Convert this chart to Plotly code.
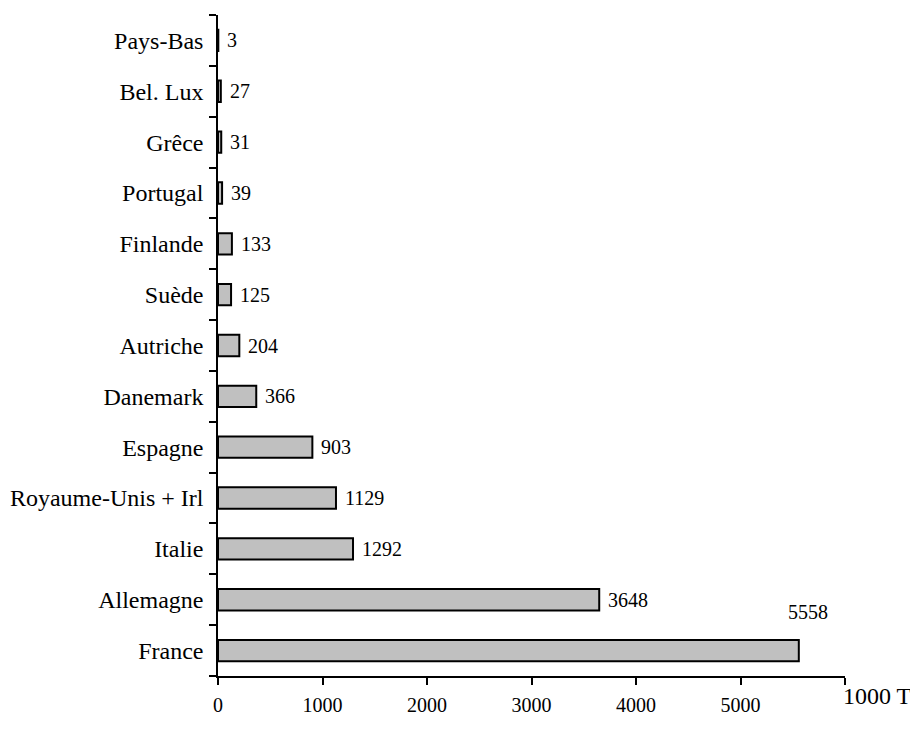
import plotly.graph_objects as go

countries = ["France", "Allemagne", "Italie", "Royaume-Unis + Irl", "Espagne", "Danemark",
             "Autriche", "Suède", "Finlande", "Portugal", "Grêce", "Bel. Lux", "Pays-Bas"]
values = [5558, 3648, 1292, 1129, 903, 366, 204, 125, 133, 39, 31, 27, 3]
x_ticks = [0, 1000, 2000, 3000, 4000, 5000, 6000]
x_ticktext = ["0", "1000", "2000", "3000", "4000", "5000", ""]
unit_label = "1000 T"

FONT = "Liberation Serif"

fig = go.Figure()
fig.add_trace(go.Bar(
    y=countries, x=values, orientation="h",
    marker=dict(color="#c0c0c0", line=dict(color="black", width=2)),
    width=0.42, hoverinfo="x+y",
))

annotations = []
for i, (c, v) in enumerate(zip(countries, values)):
    if i == 0:
        annotations.append(dict(x=v, y=c, text=str(v), showarrow=False, xanchor="center",
                                yanchor="middle", xshift=9, yshift=39,
                                font=dict(family=FONT, size=20, color="black")))
    else:
        annotations.append(dict(x=v, y=c, text=str(v), showarrow=False, xanchor="left",
                                yanchor="middle", xshift=7,
                                font=dict(family=FONT, size=20, color="black")))
annotations.append(dict(x=1, y=0, xref="paper", yref="paper", text=unit_label, showarrow=False,
                        xanchor="left", yanchor="top", xshift=-4, yshift=-5,
                        font=dict(family=FONT, size=24, color="black")))

fig.update_layout(
    width=918, height=735,
    margin=dict(l=210, r=81, t=7, b=67, autoexpand=False),
    paper_bgcolor="white", plot_bgcolor="white",
    showlegend=False, bargap=0.58,
    annotations=annotations,
    font=dict(family=FONT, color="black"),
    xaxis=dict(range=[0, 6000], tickvals=x_ticks, ticktext=x_ticktext,
               showline=True, linecolor="black", linewidth=1.5,
               ticks="outside", ticklen=7, tickwidth=1.5, tickcolor="black",
               showgrid=False, zeroline=False, ticklabelstandoff=3, automargin=False,
               tickfont=dict(family=FONT, size=20, color="black"), fixedrange=True),
    yaxis=dict(categoryorder="array", categoryarray=countries, range=[-0.5, 12.5],
               showline=True, linecolor="black", linewidth=1.5,
               ticks="outside", ticklen=7, tickwidth=1.5, tickcolor="black",
               tickson="boundaries", showgrid=False, zeroline=False, ticklabelstandoff=8,
               automargin=False,
               tickfont=dict(family=FONT, size=24, color="black"), fixedrange=True),
)

fig.write_html("out.html")
